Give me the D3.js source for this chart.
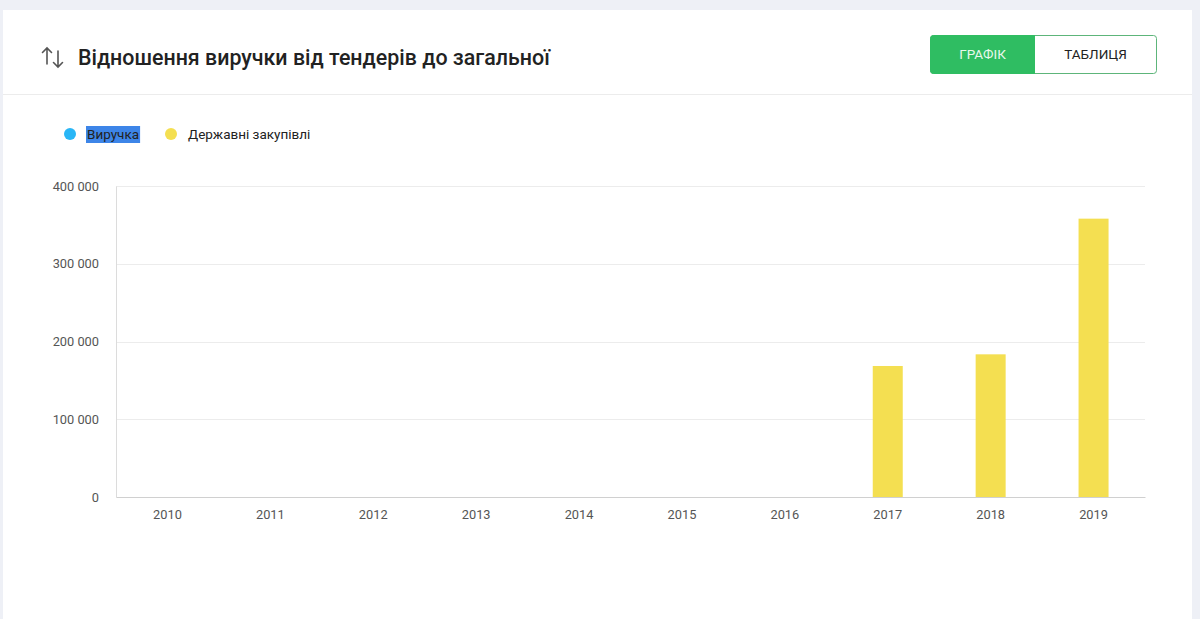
<!DOCTYPE html>
<html><head><meta charset="utf-8">
<script src="https://cdn.jsdelivr.net/npm/d3@7"></script>
<style>
html,body{margin:0;padding:0;background:#eef0f6;}
svg{display:block;font-family:Roboto,"Noto Sans",sans-serif;}
</style></head>
<body>
<svg id="c" width="1200" height="619"></svg>
<script>
const years = ["2010","2011","2012","2013","2014","2015","2016","2017","2018","2019"];
const revenue = [null,null,null,null,null,null,null,null,null,null];
const procurement = [0,0,0,0,0,0,0,168500,183500,358000];
const yTicks = [0,100000,200000,300000,400000];
const seriesNames = ["Виручка","Державні закупівлі"];
const seriesColors = ["#29b6f6","#f4df51"];
const title = "Відношення виручки від тендерів до загальної";
const buttons = ["ГРАФІК","ТАБЛИЦЯ"];

const svg = d3.select("#c");
// card
svg.append("rect").attr("x",3).attr("y",10).attr("width",1189).attr("height",619).attr("fill","#fff");
svg.append("line").attr("x1",3).attr("x2",1192).attr("y1",94.5).attr("y2",94.5).attr("stroke","#ececec");

// icon
const ic = svg.append("g").attr("stroke","#555").attr("stroke-width",1.6).attr("fill","none").attr("stroke-linecap","round");
ic.append("path").attr("d","M47,64 V48 M42.5,52.5 L47,48 L51.5,52.5");
ic.append("path").attr("d","M58,51 V67 M53.5,62.5 L58,67 L62.5,62.5");

svg.append("text").attr("x",78).attr("y",64.5).attr("font-size",21.4).attr("font-weight",500)
  .attr("fill","#222").text(title);

// buttons
svg.append("rect").attr("x",930.5).attr("y",35.5).attr("width",226).attr("height",38).attr("rx",3)
  .attr("fill","#fff").attr("stroke","#5db57a");
svg.append("path").attr("d","M933.5,35.5 H1034.5 V73.5 H933.5 A3,3 0 0 1 930.5,70.5 V38.5 A3,3 0 0 1 933.5,35.5 Z")
  .attr("fill","#2fbd62").attr("stroke","#2fbd62");
svg.append("text").attr("x",982.5).attr("y",59).attr("text-anchor","middle").attr("font-size",13.5)
  .attr("font-weight",400).attr("fill","#e8f8ec").text(buttons[0]);
svg.append("text").attr("x",1095.5).attr("y",59).attr("text-anchor","middle").attr("font-size",13.5)
  .attr("font-weight",400).attr("fill","#222").text(buttons[1]);

// legend
const lx = [70,171];
seriesNames.forEach((n,i)=>{
  svg.append("circle").attr("cx",lx[i]).attr("cy",134).attr("r",6).attr("fill",seriesColors[i]);
  const t = svg.append("text").attr("x",lx[i]+17).attr("y",139).attr("font-size",13.5)
    .attr("fill","#222").text(n);
  if(i===0){
    const bb = t.node().getBBox();
    svg.insert("rect","text").attr("x",bb.x-1).attr("y",126).attr("width",bb.width+2).attr("height",17).attr("fill","#3d85e8");
    t.raise();
  }
});

// chart
const m = {l:116, r:1145, t:186, b:497};
const x = d3.scaleBand().domain(years).range([m.l,m.r]);
const y = d3.scaleLinear().domain([0,400000]).range([m.b,m.t]);
const fmt = v => d3.format(",")(v).replace(/,/g," ");

svg.append("g").selectAll("line").data(yTicks.slice(1)).join("line")
  .attr("x1",m.l).attr("x2",m.r).attr("y1",d=>Math.round(y(d))+0.5).attr("y2",d=>Math.round(y(d))+0.5)
  .attr("stroke","#ececec");

const ya = svg.append("g").attr("transform",`translate(${m.l},0)`)
  .call(d3.axisLeft(y).tickValues(yTicks).tickFormat(fmt).tickSize(0).tickPadding(17));
ya.select(".domain").attr("stroke","#dcdcdc");
ya.selectAll("text").attr("font-size",12.8).attr("fill","#555").attr("font-family","Roboto,sans-serif");

const xa = svg.append("g").attr("transform",`translate(0,${m.b})`)
  .call(d3.axisBottom(x).tickSize(0).tickPadding(13));
xa.select(".domain").attr("stroke","#d0d0d0");
xa.selectAll("text").attr("font-size",12.8).attr("fill","#555").attr("font-family","Roboto,sans-serif");

const bw = 30;
svg.append("g").selectAll("rect").data(years.map((yr,i)=>({yr,v:procurement[i]})).filter(d=>d.v>0)).join("rect")
  .attr("x",d=>x(d.yr)+x.bandwidth()/2-bw/2).attr("width",bw)
  .attr("y",d=>y(d.v)).attr("height",d=>y(0)-y(d.v)).attr("fill",seriesColors[1]);
</script>
</body></html>
